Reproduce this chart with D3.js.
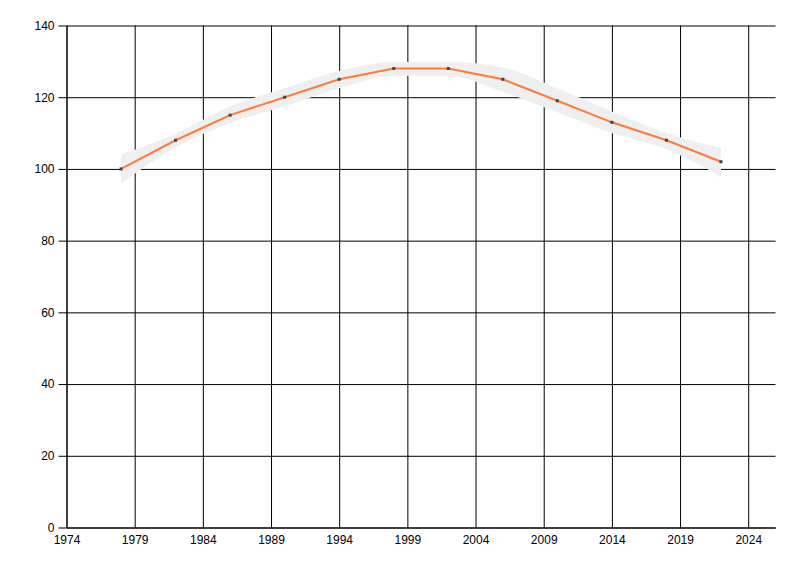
<!DOCTYPE html>
<html>
<head>
<meta charset="utf-8">
<script src="https://cdn.jsdelivr.net/npm/d3@7"></script>
<style>
  body { margin: 0; background: #fff; }
  text { font-family: "Liberation Sans", Arial, sans-serif; font-size: 12px; fill: #000; }
</style>
</head>
<body>
<div id="chart"></div>
<script>
// Fitted line with a grey confidence band

const years = [1978, 1982, 1986, 1990, 1994, 1998, 2002, 2006, 2010, 2014, 2018, 2022];
const values = [100, 108, 115, 120, 125, 128, 128, 125, 119, 113, 108, 102];
const upper = [104, 109.8, 117.4, 122.5, 127.3, 129.8, 129.8, 128.3, 122.5, 116, 110, 105.8];
const lower = [96, 106, 112.8, 117.5, 122.5, 126, 126, 121.5, 115.8, 110, 105.5, 97.9];
const xTicks = [1974, 1979, 1984, 1989, 1994, 1999, 2004, 2009, 2014, 2019, 2024];
const yTicks = [0, 20, 40, 60, 80, 100, 120, 140];

const width = 800;
const height = 576;

const data = years.map((d, i) => ({ year: d, value: values[i], hi: upper[i], lo: lower[i] }));

const svg = d3
  .select("#chart")
  .append("svg")
  .attr("width", width)
  .attr("height", height);

// Scales
const x = d3.scaleLinear().domain([1974, 2026]).range([66.5, 775.5]);
const y = d3.scaleLinear().domain([0, 140]).range([527.5, 25.5]);

// Grid lines
svg
  .append("g")
  .attr("transform", "translate(0," + y(0) + ")")
  .call(d3.axisBottom(x).tickValues(xTicks).tickSize(-(y(0) - y(140))).tickFormat(""))
  .call(g => g.select(".domain").remove())
  .selectAll("line")
  .attr("stroke", "#000");

svg
  .append("g")
  .attr("transform", "translate(" + x(1974) + ",0)")
  .call(d3.axisLeft(y).tickValues(yTicks).tickSize(-(x(2026) - x(1974))).tickFormat(""))
  .call(g => g.select(".domain").remove())
  .selectAll("line")
  .attr("stroke", "#000");

// Confidence band
const band = d3
  .area()
  .x(d => x(d.year))
  .y0(d => y(d.lo))
  .y1(d => y(d.hi))
  .curve(d3.curveMonotoneX);

svg
  .append("path")
  .datum(data)
  .attr("fill", "#efefef")
  .attr("d", band);

// Line
const line = d3
  .line()
  .x(d => x(d.year))
  .y(d => y(d.value));

svg
  .append("path")
  .datum(data)
  .attr("fill", "none")
  .attr("stroke", "#ff7b39")
  .attr("stroke-width", 2)
  .attr("d", line);

// Points
svg
  .selectAll(".pt")
  .data(data)
  .enter()
  .append("rect")
  .attr("class", "pt")
  .attr("x", d => x(d.year) - 1.5)
  .attr("y", d => y(d.value) - 1.5)
  .attr("width", 3)
  .attr("height", 3)
  .attr("fill", "#444");

// Axes
const xAxis = svg
  .append("g")
  .attr("transform", "translate(0," + y(0) + ")")
  .call(d3.axisBottom(x).tickValues(xTicks).tickSize(0).tickPadding(8).tickFormat(d3.format("d")));
xAxis.select(".domain").attr("stroke", "#000");

const yAxis = svg
  .append("g")
  .attr("transform", "translate(" + x(1974) + ",0)")
  .call(d3.axisLeft(y).tickValues(yTicks).tickSize(8).tickPadding(4).tickSizeOuter(0));
yAxis.select(".domain").attr("stroke", "#000");
yAxis.selectAll("line").attr("stroke", "#000");

svg.selectAll(".tick text").attr("font-size", 12).attr("font-family", "Liberation Sans, Arial, sans-serif").attr("fill", "#000");
</script>
</body>
</html>
